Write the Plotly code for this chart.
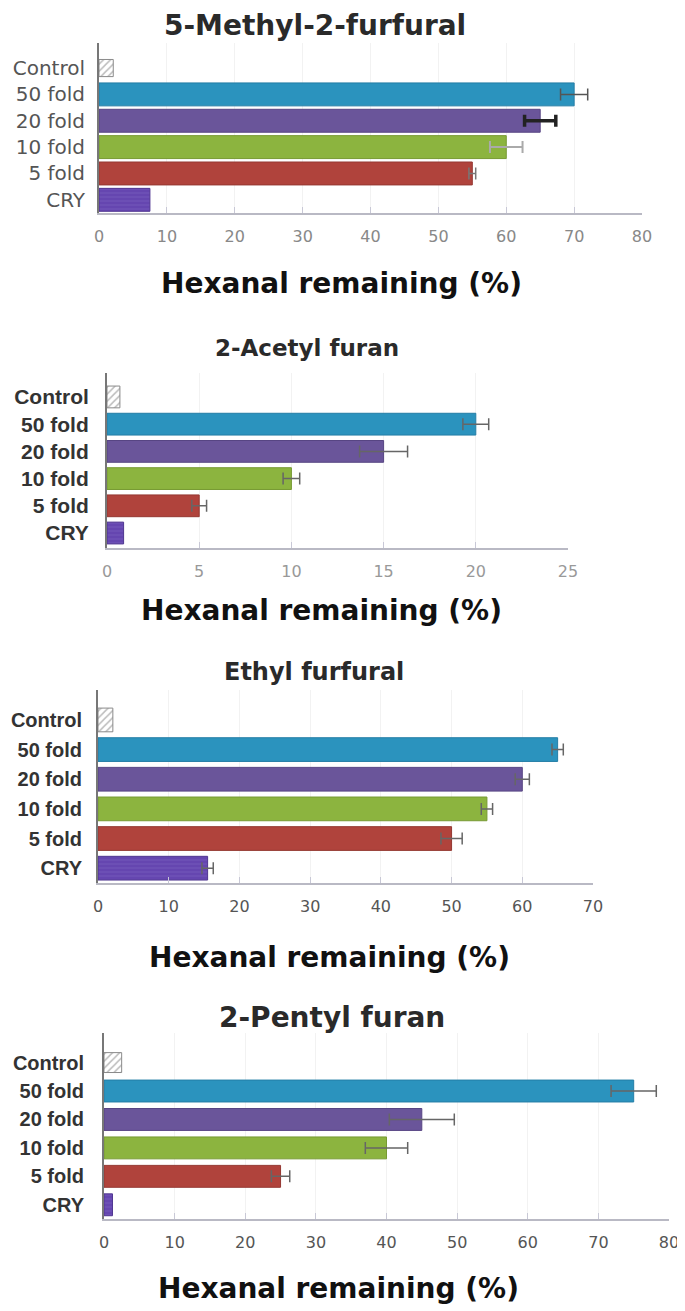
import plotly.graph_objects as go

# data
categories = ["Control", "50 fold", "20 fold", "10 fold", "5 fold", "CRY"]

methyl_vals = [2.1, 70, 65, 60, 55, 7.5]
methyl_err = [0, 2.0, 2.3, 2.4, 0.5, 0]

acetyl_vals = [0.7, 20, 15, 10, 5, 0.9]
acetyl_err = [0, 0.7, 1.3, 0.45, 0.4, 0]

ethyl_vals = [2.1, 65, 60, 55, 50, 15.5]
ethyl_err = [0, 0.8, 1.0, 0.8, 1.5, 0.8]

pentyl_vals = [2.5, 75, 45, 40, 25, 1.2]
pentyl_err = [0, 3.2, 4.6, 3.0, 1.3, 0]

titles = ["5-Methyl-2-furfural", "2-Acetyl furan", "Ethyl furfural", "2-Pentyl furan"]
x_max = [80, 25, 70, 80]
x_step = [10, 5, 10, 10]
axis_title = "Hexanal remaining (%)"

# the page body has an 8px margin, so the figure is drawn 8px in from the corner
OFF = 8
W, H = 685 - OFF, 1311 - OFF


def px(x):
    return (x - OFF) / W


def py(y):
    return 1 - (y - OFF) / H


bar_colors = {
    "Control": "white",
    "50 fold": "#2B93BE",
    "20 fold": "#6A559A",
    "10 fold": "#8CB43F",
    "5 fold": "#B0433C",
    "CRY": "#6546B0",
}
line_colors = {
    "Control": "#8a8a8a",
    "50 fold": "#247ea6",
    "20 fold": "#574583",
    "10 fold": "#779a33",
    "5 fold": "#953832",
    "CRY": "#4f3590",
}

# panel geometry in pixels: x0, x1, ytop, ybottom, y-range
panels = [
    dict(x=(99, 642), y=(43, 213), yr=[-0.5, 5.95], bw=0.87, cw=0.65, title_xy=(315, 8),
         title_size=28, title_anchor="top", axt_xy=(341, 283), vals=methyl_vals,
         err=methyl_err, standoff=8, cat_size=20),
    dict(x=(107, 568), y=(373, 548), yr=[-0.55, 5.88], bw=0.8, cw=0.8, title_xy=(307, 348),
         title_size=23, title_anchor="middle", axt_xy=(321, 610), vals=acetyl_vals,
         err=acetyl_err, standoff=12, cat_size=21),
    dict(x=(98, 593), y=(690, 883), yr=[-0.5, 6.01], bw=0.8, cw=0.8, title_xy=(314, 672),
         title_size=24, title_anchor="middle", axt_xy=(329, 957), vals=ethyl_vals,
         err=ethyl_err, standoff=10, cat_size=20),
    dict(x=(104, 669), y=(1033, 1219), yr=[-0.5, 6.04], bw=0.77, cw=0.7, title_xy=(332, 1017),
         title_size=28, title_anchor="middle", axt_xy=(338, 1288), vals=pentyl_vals,
         err=pentyl_err, standoff=14, cat_size=20),
]

fig = go.Figure()
annotations = []

for i, p in enumerate(panels):
    n = "" if i == 0 else str(i + 1)
    xa, ya = "x" + n, "y" + n
    for j, cat in enumerate(categories):
        e = p["err"][j]
        err_color, err_thick = "#666", 1.5
        if i == 0:
            err_color, err_thick = ["#555", "#555", "#222", "#aaa", "#777", "#555"][j], [1.5, 1.5, 3.5, 2, 1.5, 1.5][j]
        pattern = None
        if cat == "Control":
            pattern = dict(shape="/", fgcolor="#777", bgcolor="white", size=5, solidity=0.3)
        elif cat == "CRY":
            pattern = dict(shape="-", fgcolor="#8f7fd0", size=4, solidity=0.15)
        fig.add_trace(go.Bar(
            x=[p["vals"][j]], y=[cat], orientation="h",
            xaxis=xa, yaxis=ya,
            width=p["cw"] if cat == "Control" else p["bw"],
            marker=dict(color=bar_colors[cat], line=dict(color=line_colors[cat], width=1),
                        pattern=pattern),
            error_x=dict(type="data", array=[e], visible=e > 0, color=err_color,
                         thickness=err_thick, width=6),
            showlegend=False,
        ))

    xkey = "xaxis" + n
    ykey = "yaxis" + n
    cat_font = dict(family="DejaVu Sans", size=p["cat_size"], color="#555") if i == 0 else \
        dict(family="Liberation Sans", size=p["cat_size"], color="#333", weight="bold")
    tick_col = ["#888", "#999", "#555", "#555"][i]
    fig.update_layout(**{
        xkey: dict(domain=[px(p["x"][0]), px(p["x"][1])], anchor=ya, automargin=False,
                   range=[0, x_max[i]], dtick=x_step[i], tick0=0,
                   showline=True, linecolor="#b9b9c4", linewidth=1.5,
                   ticks="inside", ticklen=6, tickcolor="#c8c8d6", tickwidth=1,
                   showgrid=True, gridcolor="rgba(0,0,0,0.05)", zeroline=False,
                   tickfont=dict(family="DejaVu Sans", size=16, color=tick_col),
                   ticklabelstandoff=8),
        ykey: dict(domain=[py(p["y"][1]), py(p["y"][0])], anchor=xa, automargin=False,
                   type="category", categoryorder="array",
                   categoryarray=categories[::-1], range=p["yr"],
                   showline=True, linecolor="#777", linewidth=2,
                   ticks="", showgrid=False, zeroline=False,
                   tickfont=cat_font, ticklabelstandoff=p["standoff"]),
    })

    annotations.append(dict(
        text="<b>" + titles[i] + "</b>", xref="paper", yref="paper",
        x=px(p["title_xy"][0]), y=py(p["title_xy"][1]), xanchor="center",
        yanchor=p["title_anchor"], borderpad=0,
        showarrow=False, font=dict(family="DejaVu Sans", size=p["title_size"], color="#2a2a2a"),
    ))
    annotations.append(dict(
        text="<b>" + axis_title + "</b>", xref="paper", yref="paper",
        x=px(p["axt_xy"][0]), y=py(p["axt_xy"][1]), xanchor="center", yanchor="middle",
        showarrow=False, font=dict(family="DejaVu Sans", size=28, color="#111"),
    ))

fig.update_layout(
    width=W, height=H,
    margin=dict(l=0, r=0, t=0, b=0),
    paper_bgcolor="white", plot_bgcolor="white",
    barmode="overlay",
    annotations=annotations,
)

fig.write_html("out.html")
